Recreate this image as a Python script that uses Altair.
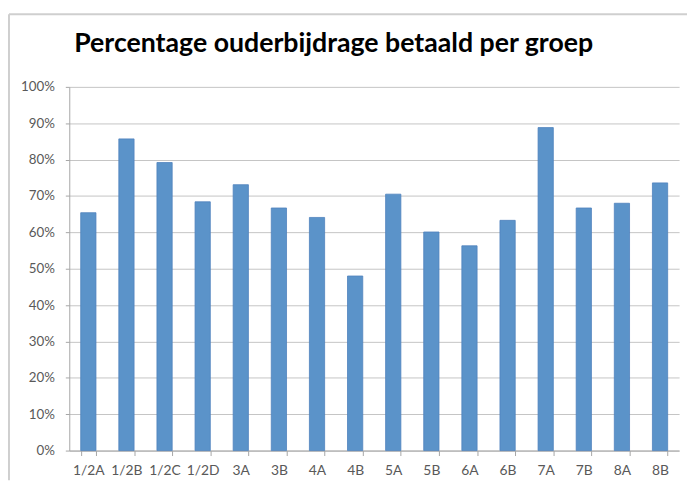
import altair as alt
import pandas as pd

groups = ["1/2A", "1/2B", "1/2C", "1/2D", "3A", "3B", "4A", "4B",
          "5A", "5B", "6A", "6B", "7A", "7B", "8A", "8B"]
values = [0.654, 0.857, 0.792, 0.684, 0.731, 0.667, 0.641, 0.480,
          0.705, 0.601, 0.563, 0.633, 0.888, 0.667, 0.680, 0.736]
y_ticks = [0, 0.1, 0.2, 0.3, 0.4, 0.5, 0.6, 0.7, 0.8, 0.9, 1.0]

df = pd.DataFrame({"groep": groups, "pct": values})
one = pd.DataFrame({"k": [0]})

FONT = "Lato"
GRAY = "#595959"

bars = alt.Chart(df).mark_bar(color="#5B93C9", stroke="#4F81BD", strokeWidth=0.8).encode(
    x=alt.X("groep:N", sort=groups, title=None,
            scale=alt.Scale(paddingInner=0.6, paddingOuter=0.3),
            axis=alt.Axis(labelAngle=0, tickBand="extent", tickSize=5,
                          labelPadding=8, domainColor="#A6A6A6", tickColor="#A6A6A6",
                          labelColor=GRAY, labelFont=FONT, labelFontSize=14, grid=False)),
    y=alt.Y("pct:Q", title=None,
            scale=alt.Scale(domain=[0, 1], nice=False),
            axis=alt.Axis(values=y_ticks, format=".0%", tickSize=4, labelPadding=11,
                          domainColor="#A6A6A6", tickColor="#A6A6A6",
                          gridColor="#C4C4C4", labelColor=GRAY, labelFont=FONT,
                          labelFontSize=13.5)),
)

top_border = alt.Chart(one).mark_rule(color="#CFCFCF", strokeWidth=2).encode(
    x=alt.value(-61), x2=alt.value(625), y=alt.value(-73.5))
left_border = alt.Chart(one).mark_rule(color="#CFCFCF", strokeWidth=2).encode(
    x=alt.value(-61), y=alt.value(-73.5), y2=alt.value(398))

chart = alt.layer(top_border, left_border, bars).properties(
    width=617, height=368,
    autosize=alt.AutoSizeParams(type="none"),
    padding={"left": 62, "top": 77, "right": 8, "bottom": 30},
    title=alt.TitleParams("Percentage ouderbijdrage betaald per groep",
                          anchor="start", frame="group", font=FONT, fontSize=27,
                          fontWeight="bold", color="#000000", baseline="alphabetic",
                          offset=0, dx=5, dy=66),
).configure_view(stroke=None)

chart.save("out.html", embed_options={"renderer": "svg", "actions": False})
